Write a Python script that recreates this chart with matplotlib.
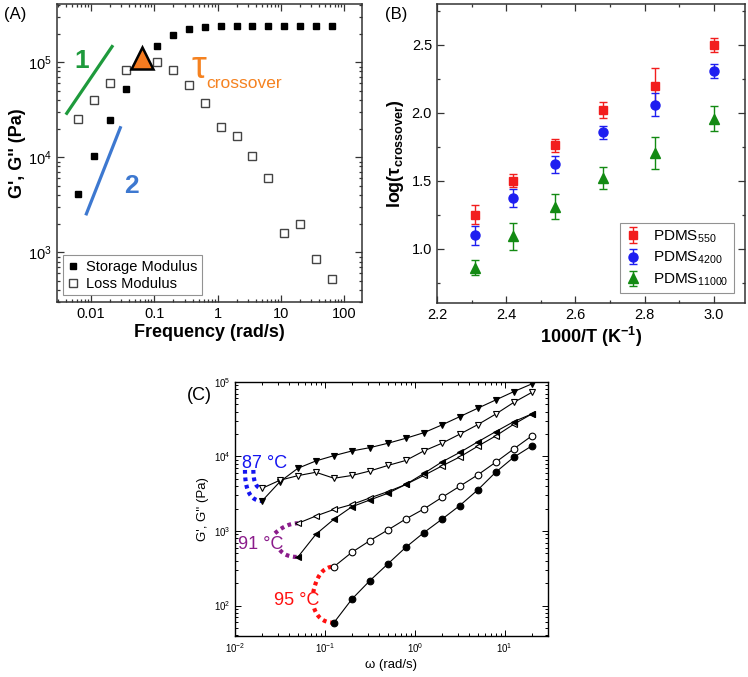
import numpy as np
import matplotlib
matplotlib.use("Agg")
import matplotlib.pyplot as plt
from matplotlib.ticker import LogLocator, NullFormatter, MultipleLocator

plt.rcParams['font.family'] = ['Liberation Sans', 'DejaVu Sans']
plt.rcParams['mathtext.fontset'] = 'custom'
plt.rcParams['mathtext.rm'] = 'Liberation Sans'
plt.rcParams['mathtext.it'] = 'Liberation Sans:italic'
plt.rcParams['mathtext.bf'] = 'Liberation Sans:bold'

nan = np.nan

# ---- panel A : frequency sweep
freq_A = [0.00628, 0.0112, 0.0199, 0.0353, 0.0628, 0.112, 0.199, 0.353, 0.628,
          1.12, 1.99, 3.53, 6.28, 11.2, 19.9, 35.3, 62.8]
storage_A = [4080, 10260, 24700, 52000, nan, 147000, 192000, 222000, 235000,
             240000, 241000, 241000, 241000, 241000, 241000, 241000, 241000]
loss_A = [25300, 39800, 60100, 82400, nan, 100700, 83800, 58200, 37000,
          21000, 16700, 10400, 6050, 1600, 1990, 843, 524]
cross_freq = 0.0628
cross_mod = 1.1e5
slope1_f = [0.004, 0.0222]
slope1_g = [28100, 151000]
slope2_f = [0.00826, 0.0296]
slope2_g = [2450, 21200]
ticks_A = [0.01, 0.1, 1, 10, 100]
ticklabels_A = ['0.01', '0.1', '1', '10', '100']

# ---- panel B : crossover time vs 1000/T
invT = [2.31, 2.42, 2.54, 2.68, 2.83, 3.00]
tau_550 = [1.25, 1.50, 1.76, 2.02, 2.20, 2.50]
err_550 = [0.07, 0.05, 0.05, 0.06, 0.13, 0.05]
tau_4200 = [1.10, 1.37, 1.62, 1.855, 2.06, 2.305]
err_4200 = [0.07, 0.067, 0.06, 0.05, 0.085, 0.05]
tau_11000 = [0.86, 1.09, 1.31, 1.52, 1.705, 1.957]
err_11000 = [0.055, 0.10, 0.09, 0.08, 0.12, 0.09]
ticks_Bx = [2.2, 2.4, 2.6, 2.8, 3.0]
ticks_By = [1.0, 1.5, 2.0, 2.5]

# ---- panel C : sweeps at 87 / 91 / 95 C
omega_C = [0.02, 0.0316, 0.0501, 0.0794, 0.126, 0.2, 0.316, 0.501, 0.794,
           1.26, 2.0, 3.16, 5.01, 7.94, 12.6, 20.0]
g1_87 = [2530, 4590, 6950, 8710, 10260, 11860, 13130, 15030, 17540,
         20840, 26480, 34200, 44360, 57300, 74100, 94000]
g2_87 = [3740, 4800, 5530, 6140, 5100, 5560, 6380, 7570, 8840,
         11860, 15030, 19900, 26700, 37000, 53100, 72300]
g1_91 = [nan, nan, 448, 903, 1439, 2118, 2606, 3206, 4210, 5910,
         8440, 11320, 15670, 21530, 29310, 37150]
g2_91 = [nan, nan, 1268, 1589, 1944, 2270, 2775, 3372, 4210, 5560,
         7450, 9840, 13700, 18840, 27020, 37150]
g1_95 = [nan, nan, nan, nan, 58.8, 122, 215, 361, 604, 949, 1435,
         2188, 3548, 6140, 9750, 13840]
g2_95 = [nan, nan, nan, nan, 332, 518, 741, 1031, 1449, 1972, 2818,
         3981, 5650, 8360, 12610, 18840]

fig = plt.figure(figsize=(7.48, 6.77), dpi=100)

# ================= (A)
axA = fig.add_axes([0.0762, 0.5539, 0.4078, 0.4402])
axA.set_xscale('log')
axA.set_yscale('log')
axA.plot(freq_A, storage_A, 's', color='black', ms=5, mec='black',
         label='Storage Modulus')
axA.plot(freq_A, loss_A, 's', mfc='white', mec='#444444', mew=1.0, ms=5.2,
         label='Loss Modulus')
axA.plot(slope1_f, slope1_g, color='#1E9A3C', lw=2.3, solid_capstyle='butt')
axA.plot(slope2_f, slope2_g, color='#3D78D0', lw=2.3, solid_capstyle='butt')
axA.plot([cross_freq], [cross_mod], '^', ms=16, mfc='#F47B20', mec='black',
         mew=1.8, zorder=5)
axA.text(0.080, 0.784, '1', transform=axA.transAxes, color='#1E9A3C',
         fontsize=19, fontweight='bold', ha='center', va='baseline')
axA.text(0.245, 0.365, '2', transform=axA.transAxes, color='#3D78D0',
         fontsize=19, fontweight='bold', ha='center', va='baseline')
axA.text(0.440, 0.752, 'τ', transform=axA.transAxes, color='#F58220',
         fontsize=27, ha='left', va='baseline')
axA.text(0.489, 0.718, 'crossover', transform=axA.transAxes, color='#F58220',
         fontsize=12.5, ha='left', va='baseline')
axA.set_xlim(0.0029, 190)
axA.set_ylim(300, 4.1e5)
axA.set_xticks(ticks_A)
axA.set_xticklabels(ticklabels_A)
axA.xaxis.set_minor_locator(LogLocator(base=10, subs=np.arange(2, 10)))
axA.xaxis.set_minor_formatter(NullFormatter())
axA.set_xlabel('Frequency (rad/s)', fontsize=13, fontweight='bold', labelpad=2)
axA.set_ylabel("G', G'' (Pa)", fontsize=13, fontweight='bold', labelpad=2)
leg = axA.legend(loc='lower left', bbox_to_anchor=(0.02, 0.023), borderaxespad=0,
                 fontsize=10.5, frameon=True, fancybox=False, handlelength=0.8,
                 handletextpad=0.5, borderpad=0.3, labelspacing=0.2)
leg.get_frame().set_edgecolor('#777777')
leg.get_frame().set_linewidth(0.8)
axA.text(-0.175, 0.95, '(A)', transform=axA.transAxes, fontsize=12)

# ================= (B)
axB = fig.add_axes([0.5842, 0.5524, 0.4118, 0.4417])
axB.errorbar(invT, tau_550, yerr=err_550, fmt='s', color='#F21D1D', ms=6,
             capsize=3, elinewidth=1, capthick=1, label='PDMS$_{\\mathregular{550}}$')
axB.errorbar(invT, tau_4200, yerr=err_4200, fmt='o', color='#1E1EF0', ms=6.5,
             capsize=3, elinewidth=1, capthick=1, label='PDMS$_{\\mathregular{4200}}$')
axB.errorbar(invT, tau_11000, yerr=err_11000, fmt='^', color='#138A13', ms=7,
             capsize=3, elinewidth=1, capthick=1, label='PDMS$_{\\mathregular{11000}}$')
axB.set_xlim(2.2, 3.09)
axB.set_ylim(0.6, 2.8)
axB.set_xticks(ticks_Bx)
axB.set_yticks(ticks_By)
axB.xaxis.set_minor_locator(MultipleLocator(0.1))
axB.yaxis.set_minor_locator(MultipleLocator(0.25))
axB.set_xlabel('1000/T (K$^{\\mathbf{-1}}$)', fontsize=13, fontweight='bold', labelpad=2)
axB.set_ylabel('log(τ$_{\\mathbf{crossover}}$)', fontsize=13, fontweight='bold', labelpad=4)
legB = axB.legend(loc='lower right', bbox_to_anchor=(0.964, 0.032), borderaxespad=0,
                  fontsize=11, frameon=True, fancybox=False, handlelength=1.0,
                  handletextpad=0.8, borderpad=0.35, labelspacing=0.35)
legB.get_frame().set_edgecolor('#777777')
legB.get_frame().set_linewidth(0.8)
axB.text(-0.17, 0.95, '(B)', transform=axB.transAxes, fontsize=12)

for ax in (axA, axB):
    ax.tick_params(which='both', direction='in', top=True, right=True,
                   labelsize=10.5, width=0.9, color='#333333')
    ax.tick_params(which='major', length=5)
    ax.tick_params(which='minor', length=2.5)
    for sp in ax.spines.values():
        sp.set_linewidth(1.1)
        sp.set_color('#333333')

# ================= (C)
axC = fig.add_axes([0.3142, 0.0606, 0.4178, 0.3752])
axC.set_xscale('log')
axC.set_yscale('log')
line_kw = dict(color='black', lw=0.8, mec='black', mew=0.8)
axC.plot(omega_C, g1_87, marker='v', mfc='black', ms=5, **line_kw)
axC.plot(omega_C, g2_87, marker='v', mfc='white', ms=5, **line_kw)
axC.plot(omega_C, g2_91, marker='<', mfc='white', ms=5, **line_kw)
axC.plot(omega_C, g1_91, marker='<', mfc='black', ms=5, **line_kw)
axC.plot(omega_C, g2_95, marker='o', mfc='white', ms=4.8, **line_kw)
axC.plot(omega_C, g1_95, marker='o', mfc='black', ms=4.8, **line_kw)


def first_point(g):
    i = int(np.where(~np.isnan(np.asarray(g, dtype=float)))[0][0])
    return omega_C[i], g[i]


def dotted_link(ax, start, series, color, bend):
    # quadratic bezier (in log space) from the label anchor to first data point
    x0, y0 = np.log10(start[0]), np.log10(start[1])
    end = first_point(series)
    x2, y2 = np.log10(end[0]), np.log10(end[1])
    x1, y1 = x0 + bend * (x2 - x0), y2
    t = np.linspace(0, 1, 30)
    xs = (1 - t) ** 2 * x0 + 2 * (1 - t) * t * x1 + t ** 2 * x2
    ys = (1 - t) ** 2 * y0 + 2 * (1 - t) * t * y1 + t ** 2 * y2
    ax.plot(10 ** xs, 10 ** ys, color=color, lw=3, ls=(0, (0.9, 0.9)),
            dash_capstyle='butt', zorder=1)


c87, c91, c95 = '#1515F0', '#8B1C8B', '#FF1010'
dotted_link(axC, (0.0129, 6590), g1_87, c87, 0.0)
dotted_link(axC, (0.0160, 6590), g2_87, c87, 0.0)
dotted_link(axC, (0.0278, 931), g2_91, c91, 0.5)
dotted_link(axC, (0.0316, 556), g1_91, c91, 0.3)
dotted_link(axC, (0.0741, 149), g2_95, c95, 0.25)
dotted_link(axC, (0.0760, 91.6), g1_95, c95, 0.25)
axC.text(0.01186, 7010, '87 °C', color=c87, fontsize=13, ha='left', va='baseline')
axC.text(0.0108, 573, '91 °C', color=c91, fontsize=13, ha='left', va='baseline')
axC.text(0.0273, 101.6, '95 °C', color=c95, fontsize=13, ha='left', va='baseline')

axC.set_xlim(0.01, 30)
axC.set_ylim(39, 1e5)
axC.xaxis.set_major_locator(LogLocator(base=10, numticks=10))
axC.xaxis.set_minor_locator(LogLocator(base=10, subs=np.arange(2, 10), numticks=20))
axC.xaxis.set_minor_formatter(NullFormatter())
axC.yaxis.set_minor_locator(LogLocator(base=10, subs=np.arange(2, 10), numticks=20))
axC.yaxis.set_minor_formatter(NullFormatter())
axC.tick_params(which='both', direction='in', top=True, right=True,
                labelsize=7, width=0.7)
axC.tick_params(which='major', length=4)
axC.tick_params(which='minor', length=2)
for sp in axC.spines.values():
    sp.set_linewidth(1.0)
axC.set_xlabel('ω (rad/s)', fontsize=9.5, labelpad=3)
axC.set_ylabel("G', G'' (Pa)", fontsize=9.5, labelpad=3)
axC.text(-0.155, 0.93, '(C)', transform=axC.transAxes, fontsize=13)

fig.savefig('out.png', dpi=100)
